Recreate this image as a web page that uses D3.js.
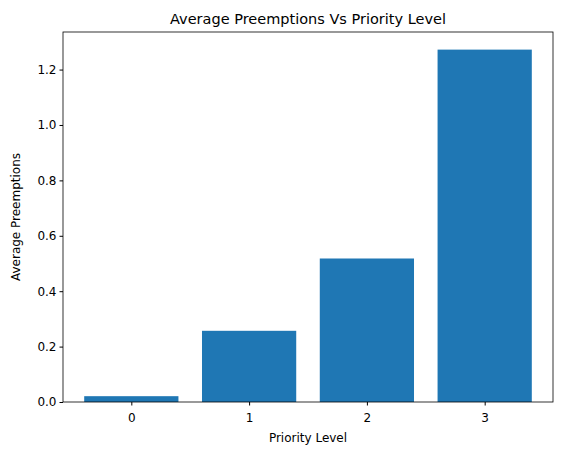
<!DOCTYPE html>
<html>
<head>
<meta charset="utf-8">
<script src="https://cdn.jsdelivr.net/npm/d3@7"></script>
<style>
  body { margin: 0; background: #fff; }
  text { font-family: "DejaVu Sans", sans-serif; }
</style>
</head>
<body>
<script>
// data
var levels = [0, 1, 2, 3];
var avgPreemptions = [0.021, 0.257, 0.518, 1.272];
var yTicks = [0, 0.2, 0.4, 0.6, 0.8, 1.0, 1.2];

var W = 567, H = 455;
var m = {left: 63, right: 14, top: 32, bottom: 53};

var svg = d3.select("body").append("svg")
  .attr("width", W).attr("height", H);

var x = d3.scaleLinear().domain([-0.58, 3.58]).range([m.left, W - m.right]);
var y = d3.scaleLinear().domain([0, 1.3356]).range([H - m.bottom, m.top]);

// bars
svg.selectAll("rect.bar")
  .data(levels)
  .enter().append("rect")
    .attr("class", "bar")
    .attr("x", function(d) { return x(d - 0.4); })
    .attr("width", function(d) { return x(d + 0.4) - x(d - 0.4); })
    .attr("y", function(d, i) { return y(avgPreemptions[i]); })
    .attr("height", function(d, i) { return y(0) - y(avgPreemptions[i]); })
    .attr("fill", "#1f77b4");

// axes
var xAxis = svg.append("g")
  .attr("transform", "translate(0," + (H - m.bottom) + ")")
  .call(d3.axisBottom(x).tickValues(levels).tickFormat(d3.format("d")).tickSizeOuter(0).tickSize(3.5));
var yAxis = svg.append("g")
  .attr("transform", "translate(" + m.left + ",0)")
  .call(d3.axisLeft(y).tickValues(yTicks).tickFormat(d3.format(".1f")).tickSizeOuter(0).tickSize(3.5));
[xAxis, yAxis].forEach(function(a) {
  a.select(".domain").remove();
  a.selectAll("text").style("font-size", "12px").attr("fill", "#000");
  a.selectAll("line").attr("stroke", "#000");
});
xAxis.selectAll("text").attr("dy", "1.1em");

// frame
svg.append("rect")
  .attr("x", m.left).attr("y", m.top)
  .attr("width", W - m.right - m.left).attr("height", H - m.bottom - m.top)
  .attr("fill", "none").attr("stroke", "#000").attr("stroke-width", 0.8);

// labels
svg.append("text")
  .attr("x", (m.left + W - m.right) / 2).attr("y", 24)
  .attr("text-anchor", "middle").style("font-size", "14.5px")
  .text("Average Preemptions Vs Priority Level");
svg.append("text")
  .attr("x", (m.left + W - m.right) / 2).attr("y", 442)
  .attr("text-anchor", "middle").style("font-size", "12px")
  .text("Priority Level");
svg.append("text")
  .attr("transform", "translate(20," + ((m.top + H - m.bottom) / 2) + ") rotate(-90)")
  .attr("text-anchor", "middle").style("font-size", "12px")
  .text("Average Preemptions");
</script>
</body>
</html>
